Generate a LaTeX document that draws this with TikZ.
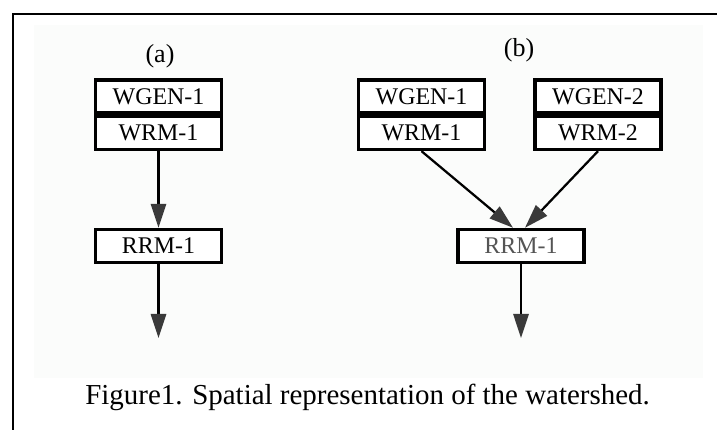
\documentclass[tikz,border=0pt]{standalone}
\usepackage{fontspec}
\setmainfont{Liberation Serif}
\usetikzlibrary{arrows.meta,positioning}
\definecolor{panelgray}{RGB}{251,252,251}
\definecolor{headgray}{RGB}{58,58,58}
\definecolor{textgray}{RGB}{85,85,85}
\begin{document}
\begin{tikzpicture}[
    modbox/.style={draw, line width=2.6pt, fill=white, minimum width=3.15cm,
      minimum height=0.82cm, inner sep=0pt, font=\fontsize{17}{20}\selectfont},
    flow/.style={line width=1.6pt, -{Triangle[length=0.6cm,width=0.38cm,color=headgray]}},
    caseref/.style={font=\fontsize{18.5}{21}\selectfont}]
  \useasboundingbox (0,0) rectangle (17.925,10.75);

  % Drawing background panel and frame
  \fill [panelgray] (0.85,1.3) rectangle (17.575,10.125);
  \draw [line width=1.4pt] (0.325,0) -- (0.325,10.4) -- (17.925,10.4);

  % Case (a): one subwatershed
  \node [caseref] (labela) at (4.0,9.35) {(a)};
  \node [modbox] (wgenA) at (3.9625,8.3375) {WGEN-1};
  \node [modbox, below=0pt of wgenA] (wrmA) {WRM-1};
  \node [modbox] (rrmA) at (3.9625,4.6) {RRM-1};
  \coordinate (outA) at (3.9625,2.3);

  % Case (b): two subwatersheds
  \node [caseref] (labelb) at (12.975,9.5) {(b)};
  \node [modbox] (wgenB1) at (10.5375,8.3375) {WGEN-1};
  \node [modbox, below=0pt of wgenB1] (wrmB1) {WRM-1};
  \node [modbox] (wgenB2) at (14.95,8.3375) {WGEN-2};
  \node [modbox, below=0pt of wgenB2] (wrmB2) {WRM-2};
  \node [modbox, text=textgray] (rrmB) at (13.025,4.6) {RRM-1};
  \coordinate (outB) at (13.025,2.3);

  % Drawing flows
  \draw [flow] (wrmA.south) -- (rrmA.north);
  \draw [flow] (rrmA.south) -- (outA);
  \draw [flow] (wrmB1.south) -- ([xshift=-0.2cm]rrmB.north);
  \draw [flow] (wrmB2.south) -- ([xshift=0.1cm]rrmB.north);
  \draw [flow] (rrmB.south) -- (outB);

  % Caption
  \node [anchor=base, font=\fontsize{20.6}{24}\selectfont] (caption) at (9.19,0.625)
    {Figure1. Spatial representation of the watershed.};
\end{tikzpicture}
\end{document}
